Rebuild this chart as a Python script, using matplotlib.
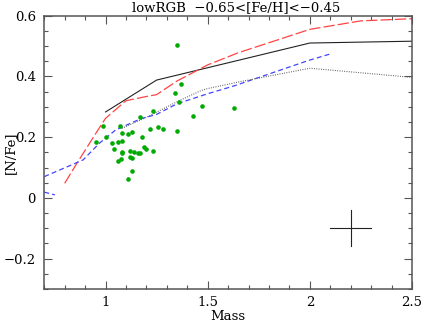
import matplotlib
matplotlib.use("Agg")
import matplotlib.pyplot as plt
from matplotlib.ticker import MultipleLocator

# --- data ---
star_mass = [0.952, 0.989, 1.000, 1.030, 1.040, 1.059, 1.062, 1.069, 1.074, 1.079,
             1.079, 1.079, 1.079, 1.110, 1.111, 1.119, 1.119, 1.128, 1.129, 1.131,
             1.139, 1.160, 1.170, 1.168, 1.180, 1.189, 1.199, 1.219, 1.231, 1.231,
             1.258, 1.280, 1.340, 1.350, 1.350, 1.359, 1.369, 1.429, 1.470, 1.630]
star_nfe = [0.183, 0.238, 0.202, 0.181, 0.161, 0.183, 0.122, 0.237, 0.129, 0.215,
            0.189, 0.152, 0.147, 0.210, 0.063, 0.154, 0.134, 0.132, 0.090, 0.217,
            0.150, 0.147, 0.147, 0.268, 0.202, 0.169, 0.160, 0.228, 0.286, 0.156,
            0.234, 0.226, 0.346, 0.503, 0.220, 0.317, 0.376, 0.271, 0.304, 0.295]

solid_mass = [1.0, 1.25, 2.0, 2.5]
solid_nfe = [0.283, 0.388, 0.510, 0.516]

red_mass = [0.80, 0.86, 0.95, 1.00, 1.10, 1.20, 1.25, 1.35, 1.50, 1.65, 2.00, 2.25, 2.50]
red_nfe = [0.048, 0.114, 0.210, 0.262, 0.320, 0.334, 0.340, 0.385, 0.438, 0.478, 0.555, 0.583, 0.590]

blue_mass = [0.70, 0.89, 0.97, 1.05, 1.17, 1.25, 1.35, 1.50, 1.63, 2.00, 2.10]
blue_nfe = [0.070, 0.125, 0.180, 0.224, 0.260, 0.275, 0.310, 0.343, 0.369, 0.454, 0.474]

blue2_mass = [0.70, 0.752]
blue2_nfe = [0.019, 0.010]

dot_mass = [1.08, 1.19, 1.36, 1.47, 1.50, 1.66, 2.00, 2.50]
dot_nfe = [0.229, 0.262, 0.320, 0.354, 0.360, 0.383, 0.427, 0.397]

err_center = (2.2, -0.1)
err_dx, err_dy = 0.1, 0.06

xlim = (0.7, 2.5)
ylim = (-0.3, 0.6)
xticks = [1, 1.5, 2, 2.5]
xticklabels = ["1", "1.5", "2", "2.5"]
yticks = [-0.2, 0, 0.2, 0.4, 0.6]
yticklabels = ["\u22120.2", "0", "0.2", "0.4", "0.6"]
title = "lowRGB  \u22120.65<[Fe/H]<\u22120.45"

plt.rcParams['font.family'] = ['DejaVu Serif']
fig = plt.figure(figsize=(4.38, 3.27), dpi=100)
ax = fig.add_axes([0.101, 0.1162, 0.8396, 0.8358])

ax.plot(solid_mass, solid_nfe, color='#222222', lw=0.8)
ax.plot(red_mass, red_nfe, color='#ff4444', lw=0.9, dashes=(9, 2.5))
ax.plot(blue_mass, blue_nfe, color='#4444ff', lw=0.9, dashes=(4, 2.5))
ax.plot(blue2_mass, blue2_nfe, color='#4444ff', lw=0.9, dashes=(4, 2.5))
ax.plot(dot_mass, dot_nfe, color='#555555', lw=0.8, dashes=(0.8, 1.3))
ax.plot(star_mass, star_nfe, 'o', color='#00aa00', ms=3.3, mew=0, zorder=5)

cx, cy = err_center
ax.plot([cx - err_dx, cx + err_dx], [cy, cy], color='#222222', lw=0.8)
ax.plot([cx, cx], [cy - err_dy, cy + err_dy], color='#222222', lw=0.8)

ax.set_xlim(*xlim)
ax.set_ylim(*ylim)
ax.set_xticks(xticks)
ax.set_xticklabels(xticklabels)
ax.set_yticks(yticks)
ax.set_yticklabels(yticklabels)
ax.xaxis.set_minor_locator(MultipleLocator(0.1))
ax.yaxis.set_minor_locator(MultipleLocator(0.05))
ax.tick_params(which='both', direction='in', top=True, right=True,
               color='#555555', width=0.8, labelsize=9.5)
ax.tick_params(which='major', length=5.5)
ax.tick_params(which='minor', length=3)
ax.tick_params(axis='x', pad=5)
ax.tick_params(axis='y', pad=6)
for s in ax.spines.values():
    s.set_color('#555555')
    s.set_linewidth(1.1)

ax.set_xlabel('Mass', fontsize=9.5, va='center')
ax.xaxis.set_label_coords(0.5, -0.102)
ax.set_ylabel('[N/Fe]', fontsize=9.5, va='center')
ax.yaxis.set_label_coords(-0.093, 0.5)

fig.text(0.539, 1 - 11 / 327, title, ha='center', va='baseline', fontsize=9.5)

fig.savefig('out.png', dpi=100)
